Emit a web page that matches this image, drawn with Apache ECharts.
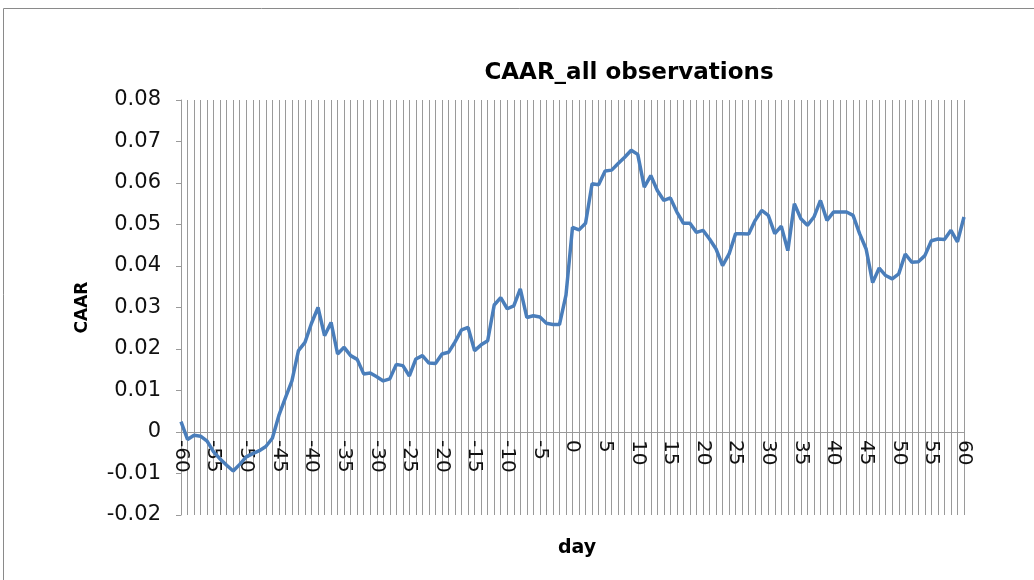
<!DOCTYPE html>
<html>
<head>
<meta charset="utf-8">
<script src="https://cdn.jsdelivr.net/npm/echarts@6/dist/echarts.min.js"></script>
<style>html,body{margin:0;padding:0;background:#fff}#c{width:1034px;height:580px}</style>
</head>
<body>
<div id="c"></div>
<script>
const days = ['-60','-59','-58','-57','-56','-55','-54','-53','-52','-51','-50','-49','-48','-47','-46','-45','-44','-43','-42','-41',
'-40','-39','-38','-37','-36','-35','-34','-33','-32','-31','-30','-29','-28','-27','-26','-25','-24','-23','-22','-21',
'-20','-19','-18','-17','-16','-15','-14','-13','-12','-11','-10','-9','-8','-7','-6','-5','-4','-3','-2','-1',
'0','1','2','3','4','5','6','7','8','9','10','11','12','13','14','15','16','17','18','19',
'20','21','22','23','24','25','26','27','28','29','30','31','32','33','34','35','36','37','38','39',
'40','41','42','43','44','45','46','47','48','49','50','51','52','53','54','55','56','57','58','59','60'];

const caar = [
 0.0025,-0.0018,-0.0008,-0.0010,-0.0022,-0.0048,-0.0065,-0.0080,-0.0094,-0.0078,
-0.0060,-0.0052,-0.0045,-0.0035,-0.0015, 0.0040, 0.0082, 0.0123, 0.0196, 0.0216,
 0.0262, 0.0300, 0.0232, 0.0264, 0.0188, 0.0204, 0.0184, 0.0175, 0.0140, 0.0142,
 0.0133, 0.0123, 0.0128, 0.0163, 0.0160, 0.0135, 0.0176, 0.0184, 0.0166, 0.0165,
 0.0188, 0.0192, 0.0217, 0.0246, 0.0252, 0.0196, 0.0210, 0.0220, 0.0306, 0.0324,
 0.0297, 0.0304, 0.0345, 0.0276, 0.0280, 0.0277, 0.0262, 0.0259, 0.0259, 0.0330,
 0.0493, 0.0487, 0.0503, 0.0598, 0.0596, 0.0629, 0.0631, 0.0647, 0.0662, 0.0679,
 0.0669, 0.0590, 0.0618, 0.0582, 0.0558, 0.0564, 0.0530, 0.0503, 0.0503, 0.0481,
 0.0486, 0.0465, 0.0441, 0.0401, 0.0429, 0.0478, 0.0478, 0.0477, 0.0510, 0.0534,
 0.0522, 0.0478, 0.0496, 0.0437, 0.0550, 0.0514, 0.0498, 0.0518, 0.0558, 0.0510,
 0.0530, 0.0530, 0.0530, 0.0522, 0.0478, 0.0441, 0.0360, 0.0395, 0.0377, 0.0369,
 0.0381, 0.0429, 0.0409, 0.0410, 0.0425, 0.0461, 0.0465, 0.0464, 0.0486, 0.0458,
 0.0518];

const titleText = 'CAAR_all observations';
const xName = 'day';
const yName = 'CAAR';
const yMin = -0.02, yMax = 0.08, yStep = 0.01;

const gridTop = 100, gridBottom = 65, chartH = 580;
const plotH = chartH - gridTop - gridBottom;
// distance of the zero line above the plot bottom, derived from the axis range
const zeroOffset = plotH * (0 - yMin) / (yMax - yMin);

const chart = echarts.init(document.getElementById('c'), null, {renderer: 'canvas'});
const font = 'DejaVu Sans';
chart.setOption({
  animation: false,
  backgroundColor: '#fff',
  title: {
    text: titleText, left: 624, top: 57, textAlign: 'center',
    textStyle: {fontFamily: font, fontWeight: 'bold', fontSize: 23, color: '#000'}
  },
  grid: {left: 181, right: 70, top: gridTop, bottom: gridBottom},
  xAxis: {
    type: 'category', data: days, boundaryGap: false,
    offset: -zeroOffset,
    axisLine: {show: true, onZero: false, lineStyle: {color: '#9a9a9a', width: 1}},
    axisTick: {show: false},
    axisLabel: {interval: 4, rotate: -90, margin: 8, fontFamily: font, fontSize: 20, color: '#111'},
    splitLine: {show: true, interval: 0, lineStyle: {color: '#9a9a9a', width: 1}}
  },
  yAxis: {
    type: 'value', min: yMin, max: yMax, interval: yStep,
    name: yName, nameLocation: 'middle', nameRotate: 90, nameGap: 90,
    nameTextStyle: {fontFamily: font, fontWeight: 'bold', fontSize: 17, color: '#000'},
    axisLine: {show: true, lineStyle: {color: '#9a9a9a', width: 1}},
    axisTick: {show: true, length: 5, lineStyle: {color: '#9a9a9a'}},
    axisLabel: {margin: 20, fontFamily: font, fontSize: 21, color: '#111',
      formatter: v => { const r = Math.round(v * 100) / 100; return r === 0 ? '0' : r.toFixed(2); }},
    splitLine: {show: false}
  },
  graphic: [
    {type: 'rect', shape: {x: 3.5, y: 8.5, width: 1100, height: 700}, style: {fill: 'none', stroke: '#8a8a8a', lineWidth: 1}, silent: true, z: -1},
    {type: 'text', left: 558, top: 539, style: {text: xName, font: 'bold 19px "DejaVu Sans"', fill: '#000'}}
  ],
  series: [{
    type: 'line', data: caar, symbol: 'none', smooth: false,
    lineStyle: {color: '#4a7ebb', width: 3.5}, itemStyle: {color: '#4a7ebb'}
  }]
});
</script>
</body>
</html>
